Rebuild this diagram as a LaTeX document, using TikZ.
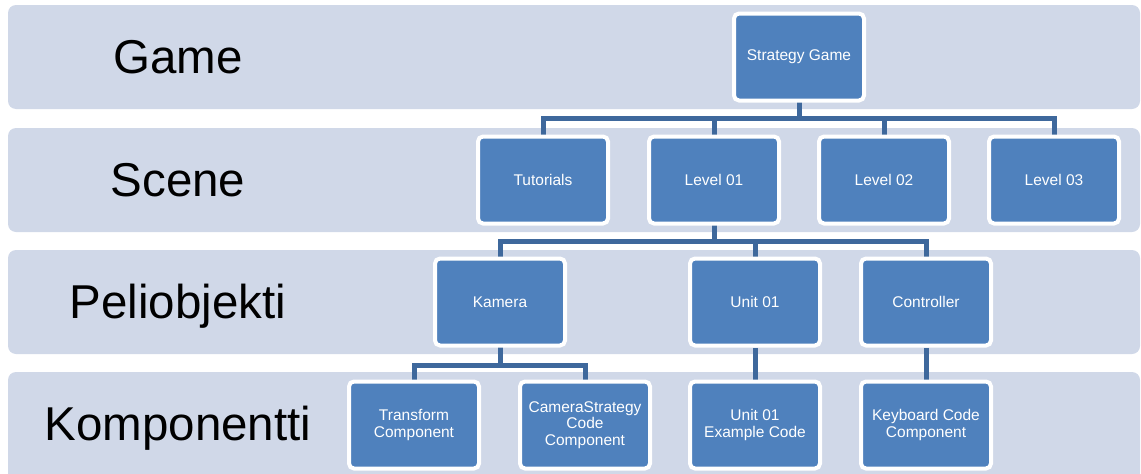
\documentclass[tikz,border=0pt]{standalone}
\usepackage{fontspec}
\setmainfont{Liberation Sans}
\definecolor{bandc}{RGB}{208,216,232}
\definecolor{boxc}{RGB}{79,129,189}
\definecolor{connc}{RGB}{62,104,156}
\pgfdeclarelayer{bands}
\pgfdeclarelayer{conn}
\pgfsetlayers{bands,conn,main}
\begin{document}
\begin{tikzpicture}[x=1pt,y=-1pt,
  bandbox/.style={fill=bandc,rounded corners=8pt},
  bandlabel/.style={anchor=base,text=black,font=\fontsize{47.5}{50}\selectfont},
  unit/.style={draw=white,line width=4pt,fill=boxc,rounded corners=5pt,
    minimum width=130pt,minimum height=87pt,inner sep=1pt,align=center,
    text=white,font=\fontsize{15.5}{16.5}\selectfont},
  link/.style={draw=connc,line width=5pt}]
\useasboundingbox (0,0) rectangle (1141,474);
\clip (0,0) rectangle (1141,474);
\begin{pgfonlayer}{bands}
\fill[bandbox] (8,5) rectangle (1140,109);
\fill[bandbox] (8,128) rectangle (1140,232);
\fill[bandbox] (8,250) rectangle (1140,354);
\fill[bandbox] (8,372) rectangle (1140,482);
\end{pgfonlayer}
\node[bandlabel] (lg) at (178,73) {Game};
\node[bandlabel] (ls) at (178,196) {Scene};
\node[bandlabel] (lp) at (178,318) {Peliobjekti};
\node[bandlabel] (lk) at (178,440) {Komponentti};
\node[unit] (sg) at (799,57) {Strategy Game};
\node[unit] (tut) at (543,180) {Tutorials};
\node[unit] (l1) at (714,180) {Level 01};
\node[unit] (l2) at (884,180) {Level 02};
\node[unit] (l3) at (1054,180) {Level 03};
\node[unit] (kam) at (500,302) {Kamera};
\node[unit] (u1) at (755,302) {Unit 01};
\node[unit] (ctl) at (926,302) {Controller};
\node[unit] (tc) at (414,425) {Transform\\Component};
\node[unit] (cs) at (585,425) {CameraStrategy\\Code\\Component};
\node[unit] (ue) at (755,425) {Unit 01\\Example Code};
\node[unit] (kb) at (926,425) {Keyboard Code\\Component};
\coordinate (j1) at (799,118);
\coordinate (j2) at (714,241);
\coordinate (j3) at (500,365);
\begin{pgfonlayer}{conn}
\draw[link] (sg.center) -- (j1);
\draw[link] (tut.center) |- (j1);
\draw[link] (l1.center) |- (j1);
\draw[link] (l2.center) |- (j1);
\draw[link] (l3.center) |- (j1);
\draw[link] (l1.center) -- (j2);
\draw[link] (kam.center) |- (j2);
\draw[link] (u1.center) |- (j2);
\draw[link] (ctl.center) |- (j2);
\draw[link] (kam.center) -- (j3);
\draw[link] (tc.center) |- (j3);
\draw[link] (cs.center) |- (j3);
\draw[link] (u1) -- (ue);
\draw[link] (ctl) -- (kb);
\end{pgfonlayer}
\end{tikzpicture}
\end{document}
